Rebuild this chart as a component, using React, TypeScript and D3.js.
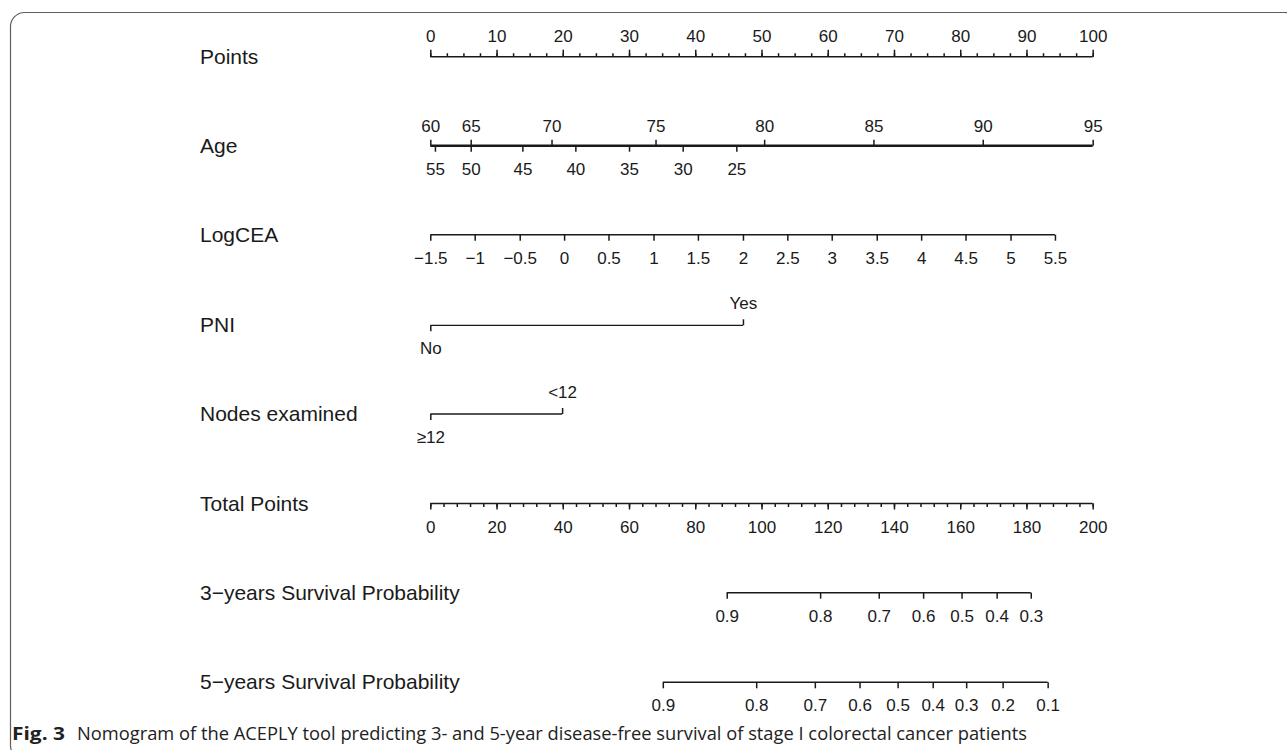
import React, { useEffect, useRef } from 'react';
import * as d3 from 'd3';

// --- values ---
const pointLabels = [0, 10, 20, 30, 40, 50, 60, 70, 80, 90, 100];

const ageTopLabels = [60, 65, 70, 75, 80, 85, 90, 95];
const ageTopPoints = [0, 6.1, 18.3, 34.0, 50.4, 66.9, 83.4, 100];
const ageBottomLabels = [55, 50, 45, 40, 35, 30, 25];
const ageBottomPoints = [0.7, 6.1, 13.9, 21.9, 30.0, 38.1, 46.2];

const ceaLabels = ['\u22121.5', '\u22121', '\u22120.5', '0', '0.5', '1', '1.5', '2', '2.5', '3', '3.5', '4', '4.5', '5', '5.5'];
const ceaPoints = [0, 6.7, 13.5, 20.2, 26.9, 33.7, 40.4, 47.2, 53.9, 60.6, 67.4, 74.1, 80.8, 87.6, 94.3];

const pniLabels = ['No', 'Yes'];
const pniPoints = [0, 47.2];

const nodesLabels = ['\u226512', '<12'];
const nodesPoints = [0, 19.9];

const totalLabels = [0, 20, 40, 60, 80, 100, 120, 140, 160, 180, 200];

const surv3Labels = ['0.9', '0.8', '0.7', '0.6', '0.5', '0.4', '0.3'];
const surv3Total = [89.5, 117.7, 135.4, 148.8, 160.4, 171.0, 181.3];

const surv5Labels = ['0.9', '0.8', '0.7', '0.6', '0.5', '0.4', '0.3', '0.2', '0.1'];
const surv5Total = [70.2, 98.4, 116.1, 129.6, 141.1, 151.7, 161.8, 172.8, 186.4];

const FONT = '"Liberation Sans", Arial, Helvetica, sans-serif';
const CAPTION_FONT = '"Open Sans", "Noto Sans", sans-serif';
const INK = '#1a1a1a';

const App = () => {
  const svgRef = useRef<SVGSVGElement>(null);

  useEffect(() => {
    const svg = d3.select(svgRef.current);
    svg.selectAll('*').remove();

    const x = d3.scaleLinear().domain([0, 100]).range([430.3, 1092.7]);
    const xt = d3.scaleLinear().domain([0, 200]).range([430.3, 1092.7]);

    // rounded frame around the figure
    svg.append('rect')
      .attr('x', 10.5).attr('y', 12.5)
      .attr('width', 1288).attr('height', 747)
      .attr('rx', 14)
      .attr('fill', 'none')
      .attr('stroke', '#5e5e5e')
      .attr('stroke-width', 1.2);

    // one set of ticks (+ labels) on a row
    const ticks = (y, scale, vals, labels, dir, size, pad) => {
      const axis = (dir === 'up' ? d3.axisTop(scale) : d3.axisBottom(scale))
        .tickValues(vals)
        .tickFormat((d, i) => (labels ? String(labels[i]) : ''))
        .tickSize(size)
        .tickSizeOuter(0)
        .tickPadding(pad);
      const g = svg.append('g').attr('transform', `translate(0,${y})`).call(axis);
      g.select('.domain').remove();
      g.attr('font-size', 17).attr('font-family', FONT).attr('color', INK);
      g.selectAll('line').attr('stroke-width', 1.5);
      g.selectAll('text').attr('fill', INK);
      return g;
    };

    const baseLine = (y, scale, a, b, w = 1.6) => {
      svg.append('line')
        .attr('x1', scale(a)).attr('x2', scale(b))
        .attr('y1', y).attr('y2', y)
        .attr('stroke', INK)
        .attr('stroke-width', w);
    };

    const rowLabel = (y, text) => {
      svg.append('text')
        .attr('x', 200).attr('y', y + 7)
        .attr('font-family', FONT).attr('font-size', 21)
        .attr('fill', INK)
        .text(text);
    };

    // Points
    const yP = 56.7;
    rowLabel(yP, 'Points');
    baseLine(yP, x, 0, 100);
    ticks(yP, x, d3.range(0, 100.01, 2.5), null, 'up', 3.5, 8);
    ticks(yP, x, pointLabels, pointLabels, 'up', 7, 8);

    // Age
    const yA = 145.7;
    rowLabel(yA, 'Age');
    baseLine(yA, x, 0, 100, 2.4);
    ticks(yA, x, ageTopPoints, ageTopLabels, 'up', 6, 8);
    ticks(yA, x, ageBottomPoints, ageBottomLabels, 'down', 6, 11);

    // LogCEA
    const yC = 234.7;
    rowLabel(yC, 'LogCEA');
    baseLine(yC, x, 0, d3.max(ceaPoints));
    ticks(yC, x, ceaPoints, ceaLabels, 'down', 6, 11);

    // PNI
    const yN = 325.3;
    rowLabel(yN, 'PNI');
    baseLine(yN, x, 0, pniPoints[1], 1.3);
    ticks(yN, x, [pniPoints[1]], [pniLabels[1]], 'up', 6, 10);
    ticks(yN, x, [pniPoints[0]], [pniLabels[0]], 'down', 6, 11);

    // Nodes examined
    const yE = 414;
    rowLabel(yE, 'Nodes examined');
    baseLine(yE, x, 0, nodesPoints[1], 1.3);
    ticks(yE, x, [nodesPoints[1]], [nodesLabels[1]], 'up', 6, 10);
    ticks(yE, x, [nodesPoints[0]], [nodesLabels[0]], 'down', 6, 11);

    // Total Points
    const yT = 503.5;
    rowLabel(yT, 'Total Points');
    baseLine(yT, xt, 0, 200);
    ticks(yT, xt, d3.range(0, 200.01, 4), null, 'down', 3.5, 0);
    ticks(yT, xt, totalLabels, totalLabels, 'down', 6, 11);

    // 3-year survival
    const y3 = 592.7;
    rowLabel(y3, '3\u2212years Survival Probability');
    baseLine(y3, xt, d3.min(surv3Total), d3.max(surv3Total));
    ticks(y3, xt, surv3Total, surv3Labels, 'down', 6, 11);

    // 5-year survival
    const y5 = 682.3;
    rowLabel(y5, '5\u2212years Survival Probability');
    baseLine(y5, xt, d3.min(surv5Total), d3.max(surv5Total));
    ticks(y5, xt, surv5Total, surv5Labels, 'down', 6, 11);

    // caption
    svg.append('text')
      .attr('x', 12).attr('y', 740)
      .attr('font-family', CAPTION_FONT)
      .attr('font-size', 18).attr('font-weight', 'bold')
      .attr('fill', '#222')
      .attr('textLength', 53)
      .attr('lengthAdjust', 'spacingAndGlyphs')
      .text('Fig. 3');
    svg.append('text')
      .attr('x', 77).attr('y', 740)
      .attr('font-family', CAPTION_FONT)
      .attr('font-size', 18)
      .attr('fill', '#222')
      .attr('textLength', 950)
      .attr('lengthAdjust', 'spacingAndGlyphs')
      .text('Nomogram of the ACEPLY tool predicting 3- and 5-year disease-free survival of stage I colorectal cancer patients');
  }, []);

  return (
    <svg
      ref={svgRef}
      width={1287}
      height={750}
      style={{ position: 'absolute', left: 0, top: 0, background: '#fff' }}
    ></svg>
  );
};

export default App;
